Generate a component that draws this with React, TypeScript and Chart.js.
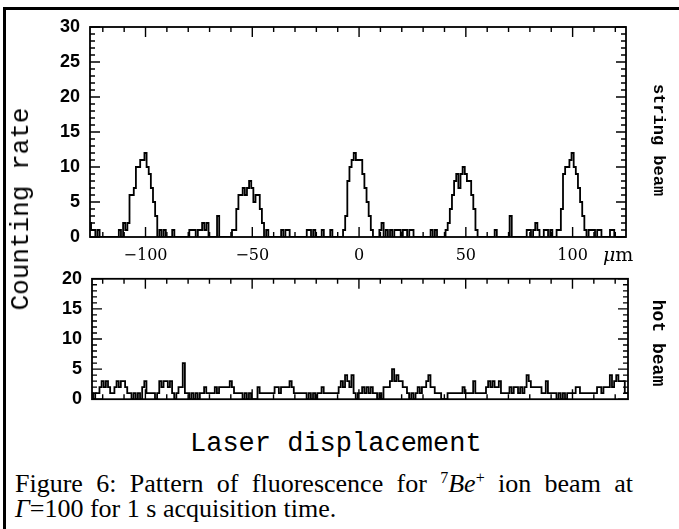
import React, { useEffect, useRef } from "react";
import { Chart, registerables } from "chart.js";
Chart.register(...registerables);

// ---- data ----
// string beam: 1 µm bins, first bin centred at -126 µm
const stringStart = -126;
const stringBeam = [
  2, 1, 1, 0, 1, 0, 0, 0, 0, 0,
  0, 0, 0, 0, 1, 0, 2, 1, 2, 6,
  6, 7, 10, 10, 11, 11, 12, 10, 9, 7,
  5, 3, 0, 1, 0, 1, 0, 0, 0, 1,
  0, 0, 0, 0, 0, 0, 0, 1, 1, 1,
  0, 1, 1, 2, 1, 2, 0, 0, 0, 0,
  3, 0, 0, 0, 0, 0, 0, 1, 1, 4,
  6, 6, 7, 6, 7, 8, 7, 5, 6, 6,
  4, 2, 0, 1, 0, 0, 0, 0, 0, 0,
  1, 0, 1, 1, 0, 0, 0, 0, 0, 0,
  0, 0, 1, 1, 0, 1, 0, 0, 0, 1,
  0, 0, 0, 1, 0, 0, 0, 0, 0, 1,
  3, 8, 10, 11, 12, 11, 11, 11, 9, 7,
  5, 3, 1, 0, 0, 0, 1, 2, 0, 1,
  0, 1, 0, 1, 1, 1, 0, 1, 1, 0,
  1, 1, 0, 0, 0, 0, 0, 0, 0, 0,
  1, 0, 1, 0, 0, 0, 0, 1, 2, 4,
  6, 8, 9, 7, 9, 10, 9, 8, 8, 6,
  4, 1, 0, 0, 0, 0, 0, 0, 0, 0,
  1, 0, 0, 0, 0, 0, 0, 3, 0, 0,
  0, 0, 0, 0, 0, 1, 1, 0, 1, 2,
  1, 0, 0, 1, 1, 0, 1, 0, 0, 1,
  1, 4, 9, 10, 10, 11, 12, 10, 9, 7,
  5, 3, 1, 0, 1, 1, 1, 0, 1, 1,
  0, 0, 0, 0, 1, 1, 0, 0, 0, 0,
  0, 0,
];

// hot beam: 1 µm bins, first bin centred at -125 µm
const hotStart = -125;
const hotBeam = [
  1, 0, 1, 1, 2, 3, 2, 3, 2, 1,
  1, 2, 3, 2, 3, 3, 2, 1, 1, 0,
  1, 0, 1, 0, 2, 3, 1, 1, 1, 1,
  0, 1, 3, 2, 3, 3, 2, 3, 1, 0,
  1, 2, 2, 6, 1, 1, 0, 1, 0, 1,
  0, 1, 1, 2, 1, 1, 1, 1, 2, 1,
  2, 2, 2, 2, 2, 3, 2, 1, 1, 1,
  1, 0, 1, 0, 1, 0, 0, 0, 2, 1,
  1, 1, 1, 1, 1, 1, 2, 2, 1, 2,
  2, 2, 2, 3, 2, 1, 1, 1, 1, 1,
  1, 0, 1, 0, 1, 0, 1, 1, 2, 1,
  1, 1, 1, 1, 1, 1, 2, 3, 2, 4,
  3, 2, 4, 1, 0, 1, 1, 2, 1, 2,
  1, 2, 1, 1, 0, 1, 0, 2, 2, 2,
  3, 5, 3, 4, 3, 3, 2, 2, 1, 0,
  1, 0, 1, 2, 1, 2, 2, 3, 4, 2,
  2, 1, 1, 1, 0, 0, 0, 1, 1, 1,
  1, 1, 1, 1, 2, 1, 1, 1, 1, 3,
  1, 1, 1, 1, 1, 2, 3, 2, 3, 2,
  2, 3, 1, 1, 1, 1, 2, 1, 2, 2,
  1, 2, 1, 2, 4, 3, 2, 2, 2, 2,
  2, 1, 1, 3, 1, 1, 1, 1, 0, 1,
  0, 1, 0, 1, 1, 1, 1, 2, 2, 1,
  1, 1, 1, 1, 1, 1, 1, 2, 2, 1,
  2, 2, 2, 4, 2, 3, 4, 3, 3, 3,
  1, 1,
];

const xTickValues = [-100, -50, 0, 50, 100];
const yTicksString = [0, 5, 10, 15, 20, 25, 30];
const yTicksHot = [0, 5, 10, 15, 20];

const fmtX = (v: number) => (v < 0 ? "\u2212" + Math.abs(v) : String(v));

const framePlugin = {
  id: "frameTicks",
  afterDatasetsDraw(chart: any) {
    const { ctx, chartArea: a, scales } = chart;
    const xs = scales.x;
    const ys = scales.y;
    ctx.save();
    ctx.strokeStyle = "#000";
    ctx.lineWidth = 1.8;
    ctx.strokeRect(a.left, a.top, a.right - a.left, a.bottom - a.top);
    ctx.lineWidth = 1.4;
    ctx.beginPath();
    for (let v = Math.ceil(ys.min); v <= ys.max; v += 1) {
      const py = ys.getPixelForValue(v);
      const len = v % 5 === 0 ? 10 : 5;
      ctx.moveTo(a.left, py);
      ctx.lineTo(a.left + len, py);
      ctx.moveTo(a.right, py);
      ctx.lineTo(a.right - len, py);
    }
    for (let v = -120; v <= 120; v += 10) {
      const px = xs.getPixelForValue(v);
      const len = v % 50 === 0 ? 10 : 5;
      ctx.moveTo(px, a.top);
      ctx.lineTo(px, a.top + len);
      ctx.moveTo(px, a.bottom);
      ctx.lineTo(px, a.bottom - len);
    }
    ctx.stroke();
    ctx.restore();
  },
};

function makeChart(
  canvas: HTMLCanvasElement,
  start: number,
  values: number[],
  xMin: number,
  xMax: number,
  yMax: number,
  yTicks: number[],
  yWidth: number,
  xHeight: number,
  padTop: number,
  padRight: number,
  showXLabels: boolean
) {
  return new Chart(canvas, {
    type: "line",
    data: {
      datasets: [
        {
          data: values.map((y, i) => ({ x: start + i, y })),
          stepped: "middle",
          borderColor: "#000",
          borderWidth: 1.8,
          pointRadius: 0,
          fill: false,
        },
      ],
    },
    options: {
      responsive: false,
      maintainAspectRatio: false,
      animation: false,
      layout: { padding: { top: padTop, right: padRight, left: 0, bottom: 0 } },
      plugins: { legend: { display: false }, tooltip: { enabled: false } },
      scales: {
        x: {
          type: "linear",
          min: xMin,
          max: xMax,
          grid: { display: false, drawTicks: false },
          border: { display: false },
          afterBuildTicks: (s: any) => {
            s.ticks = xTickValues.map((v) => ({ value: v }));
          },
          afterFit: (s: any) => {
            s.height = xHeight;
          },
          ticks: {
            display: showXLabels,
            padding: 9,
            color: "#000",
            maxRotation: 0,
            font: { family: "DejaVu Serif", size: 16 },
            callback: (v: any) => fmtX(Number(v)),
          },
        },
        y: {
          type: "linear",
          min: 0,
          max: yMax,
          grid: { display: false, drawTicks: false },
          border: { display: false },
          afterBuildTicks: (s: any) => {
            s.ticks = yTicks.map((v) => ({ value: v }));
          },
          afterFit: (s: any) => {
            s.width = yWidth;
          },
          ticks: {
            padding: 10,
            color: "#000",
            font: { family: "Liberation Sans", size: 18, weight: "bold" },
          },
        },
      },
    },
    plugins: [framePlugin],
  } as any);
}

export default function App() {
  const topRef = useRef<HTMLCanvasElement>(null);
  const botRef = useRef<HTMLCanvasElement>(null);

  useEffect(() => {
    const c1 = makeChart(topRef.current!, stringStart, stringBeam, -126, 125, 30, yTicksString, 90, 28, 27, 53, true);
    const c2 = makeChart(botRef.current!, hotStart, hotBeam, -125, 126, 20, yTicksHot, 92, 14, 13, 51, false);
    return () => {
      c1.destroy();
      c2.destroy();
    };
  }, []);

  const abs = (s: React.CSSProperties): React.CSSProperties => ({ position: "absolute", whiteSpace: "nowrap", lineHeight: 1, ...s });
  const sup: React.CSSProperties = { fontSize: 16, lineHeight: 0, verticalAlign: "0.55em" };

  return (
    <div style={{ position: "fixed", left: 0, top: 0, width: 679, height: 529, background: "#fff", overflow: "hidden" }}>
      <div style={{ position: "absolute", left: 3, top: 7, width: 676, height: 3, background: "#000" }} />
      <div style={{ position: "absolute", left: 3, top: 7, width: 3, height: 522, background: "#000" }} />
      <canvas ref={topRef} width={679} height={265} style={{ position: "absolute", left: 0, top: 0 }} />
      <canvas ref={botRef} width={679} height={162} style={{ position: "absolute", left: 0, top: 258 }} />

      <div style={abs({ left: 21, top: 209, transform: "translate(-50%,-50%) rotate(-90deg)", fontFamily: "Liberation Mono", fontSize: 26 })}>
        Counting rate
      </div>
      <div style={abs({ left: 658, top: 140, transform: "translate(-50%,-50%) rotate(90deg)", fontFamily: "Liberation Mono", fontWeight: "bold", fontSize: 17 })}>
        string beam
      </div>
      <div style={abs({ left: 658, top: 343, transform: "translate(-50%,-50%) rotate(90deg)", fontFamily: "Liberation Mono", fontWeight: "bold", fontSize: 18 })}>
        hot beam
      </div>
      <div style={abs({ left: 603, top: 245, fontFamily: "DejaVu Serif", fontSize: 19 })}>
        <i>μ</i>m
      </div>
      <div style={abs({ left: 190, top: 431, fontFamily: "Liberation Mono", fontSize: 27 })}>
        Laser displacement
      </div>
      <div style={{ position: "absolute", left: 15, top: 471, width: 618, fontFamily: "Liberation Serif", fontSize: 26, lineHeight: "25px", textAlign: "justify", textAlignLast: "justify", whiteSpace: "nowrap" }}>
        Figure 6: Pattern of fluorescence for <sup style={sup}>7</sup>
        <i>Be</i>
        <sup style={sup}>+</sup> ion beam at
      </div>
      <div style={abs({ left: 15, top: 496, fontFamily: "Liberation Serif", fontSize: 26, lineHeight: "25px" })}>
        <i>Γ</i>=100 for 1 s acquisition time.
      </div>
    </div>
  );
}
